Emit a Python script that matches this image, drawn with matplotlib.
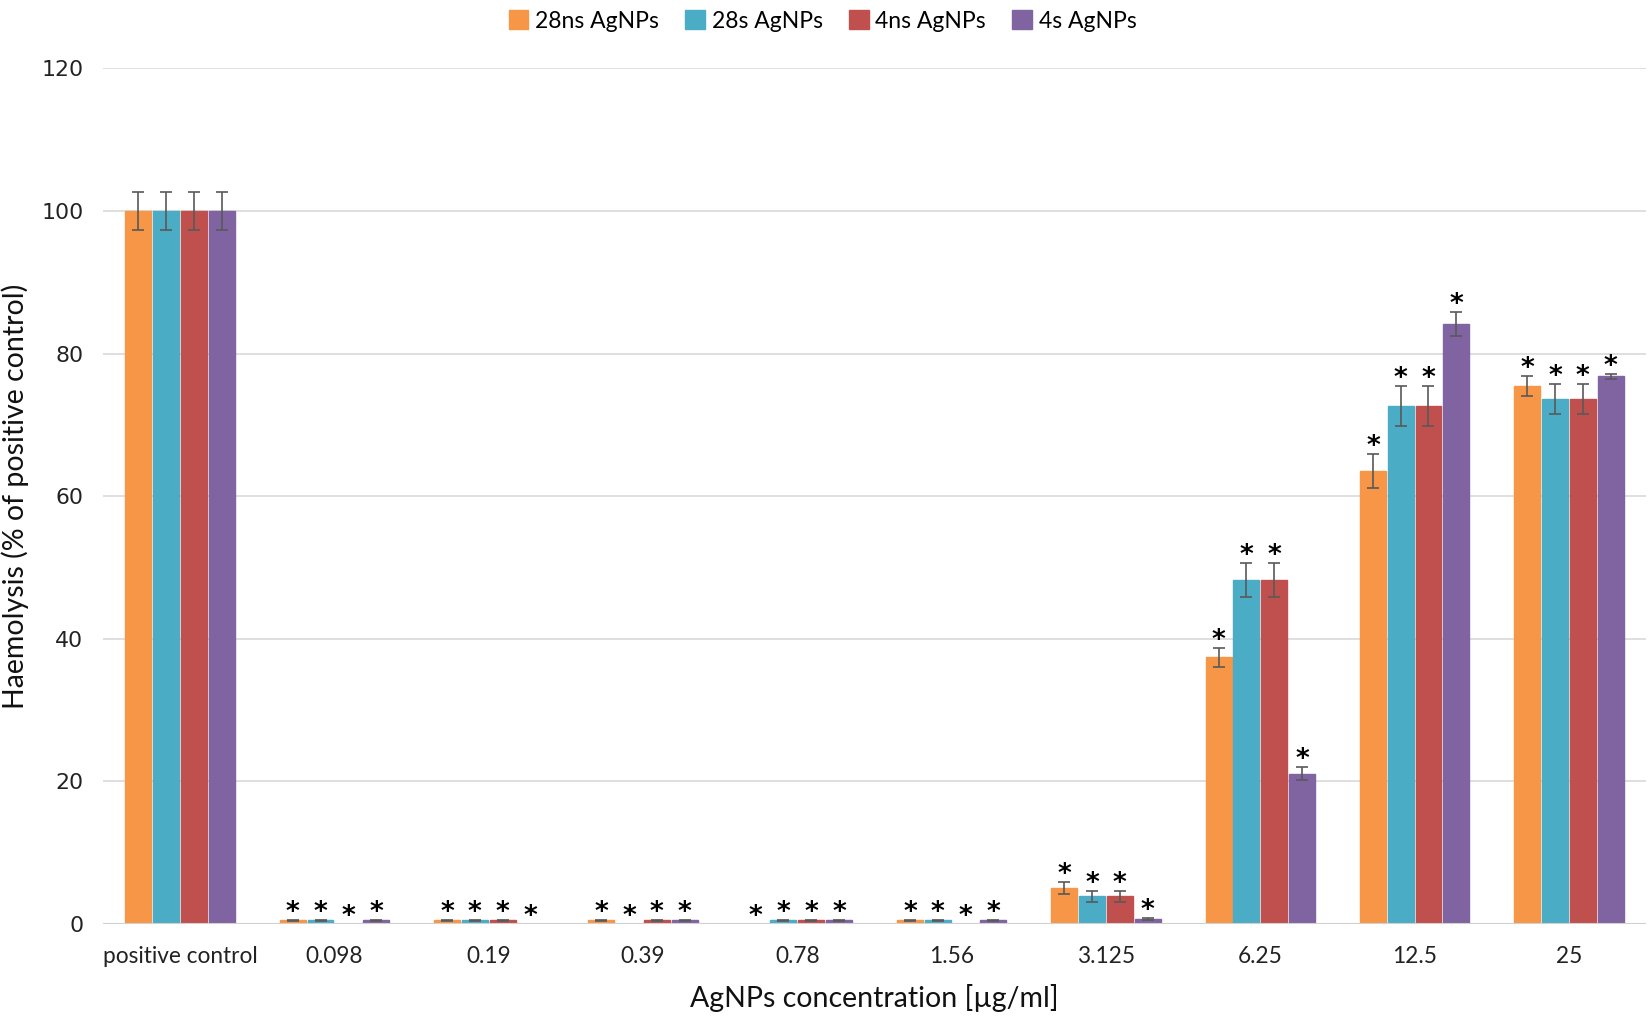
import numpy as np
import matplotlib
matplotlib.use("Agg")
import matplotlib.pyplot as plt
from matplotlib.patches import Patch

categories = ["positive control", "0.098", "0.19", "0.39", "0.78", "1.56",
              "3.125", "6.25", "12.5", "25"]
series = ["28ns AgNPs", "28s AgNPs", "4ns AgNPs", "4s AgNPs"]
colors = ["#F79646", "#4BACC6", "#C0504D", "#8064A2"]

v_28ns = [100, 0.5, 0.5, 0.5, 0.0, 0.5, 5.0, 37.4, 63.5, 75.4]
v_28s  = [100, 0.5, 0.5, 0.0, 0.5, 0.5, 3.9, 48.2, 72.6, 73.6]
v_4ns  = [100, 0.0, 0.5, 0.5, 0.5, 0.0, 3.9, 48.2, 72.6, 73.6]
v_4s   = [100, 0.5, 0.0, 0.5, 0.5, 0.5, 0.75, 21.1, 84.2, 76.8]

e_28ns = [2.7, 0.1, 0.1, 0.1, 0.0, 0.1, 0.85, 1.3, 2.4, 1.4]
e_28s  = [2.7, 0.1, 0.1, 0.0, 0.1, 0.1, 0.8, 2.4, 2.8, 2.1]
e_4ns  = [2.7, 0.0, 0.1, 0.1, 0.1, 0.0, 0.8, 2.4, 2.8, 2.1]
e_4s   = [2.7, 0.1, 0.0, 0.1, 0.1, 0.1, 0.15, 0.9, 1.7, 0.3]

# significance marks (True = '*' shown above every bar of that category)
significant = [False, True, True, True, True, True, True, True, True, True]

values = [v_28ns, v_28s, v_4ns, v_4s]
errors = [e_28ns, e_28s, e_4ns, e_4s]

fig = plt.figure(figsize=(16.52, 10.19), dpi=100)
ax = fig.add_axes([0.0623, 0.0932, 0.9341, 0.8396])

x = np.arange(len(categories))
pitch = 0.18
width = 0.168
for i, (vals, errs, c) in enumerate(zip(values, errors, colors)):
    vals = np.array(vals, dtype=float)
    errs = np.array(errs, dtype=float)
    pos = x + (i - 1.5) * pitch
    ec = [c if v > 0 else "none" for v in vals]
    ax.bar(pos, vals, width=width, color=c, edgecolor=ec, linewidth=1.0,
           zorder=3, label=series[i])
    m = errs > 0
    ax.errorbar(pos[m], vals[m], yerr=errs[m], fmt="none", ecolor="#595959",
                elinewidth=1.2, capsize=4.5, capthick=1.2, zorder=4)
    for xi, v, e, s in zip(pos, vals, errs, significant):
        if s:
            ax.annotate("*", (xi, v + e), xytext=(0, 0), textcoords="offset points",
                        ha="center", va="baseline", fontsize=19,
                        fontweight="bold", family="DejaVu Sans", zorder=5)

ax.set_xlim(-0.5, len(categories) - 0.5)
ax.set_ylim(0, 120)
ax.set_yticks(np.arange(0, 121, 20))
ax.yaxis.grid(True, color="#d9d9d9", linewidth=1.2, zorder=0)
ax.set_axisbelow(True)
ax.axhline(0, color="#d0d0d0", linewidth=1.5, zorder=3.5)
for sp in ax.spines.values():
    sp.set_visible(False)
ax.tick_params(axis="both", length=0)
ax.tick_params(axis="y", pad=14, labelsize=15.8, labelcolor="#222222")
ax.tick_params(axis="x", pad=16)
ax.set_xticks(x)
ax.set_xticklabels(categories, family="Lato", fontsize=16.3, color="#222222")
for lab in ax.get_yticklabels():
    lab.set_family("DejaVu Sans")

ax.set_xlabel("AgNPs concentration [µg/ml]", family="Lato", fontsize=20.5,
              color="#111111", labelpad=12)
ax.set_ylabel("Haemolysis (% of positive control)", family="Lato", fontsize=20.5,
              color="#111111", labelpad=9)

handles = [Patch(facecolor=c, edgecolor=c) for c in colors]
fig.legend(handles, series, loc="upper center", bbox_to_anchor=(0.498, 1.01),
           ncol=4, frameon=False, prop={"family": "Lato", "size": 16.5},
           handlelength=0.85, handleheight=0.85, handletextpad=0.3,
           columnspacing=1.15)

fig.savefig("out.png", dpi=100)
